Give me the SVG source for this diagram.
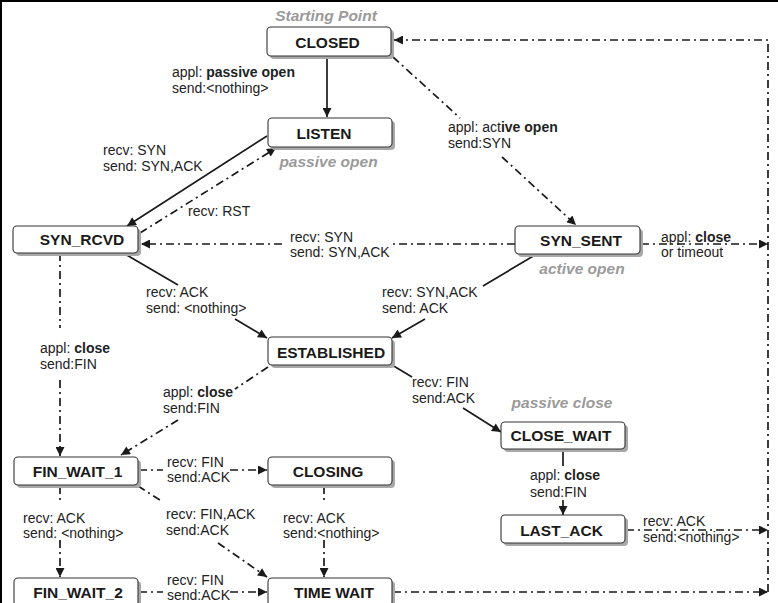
<svg xmlns="http://www.w3.org/2000/svg" width="778" height="603" viewBox="0 0 778 603">
<style>
.box{fill:#fff;stroke:#333;stroke-width:1.1}
.sh{fill:#a8a8a8}
.nt{font-family:"Liberation Sans",Arial,sans-serif;font-weight:bold;font-size:15.5px;fill:#1a1a1a;text-anchor:middle}
.lb{font-family:"Liberation Sans",Arial,sans-serif;font-size:14px;fill:#222}
.gl{font-family:"Liberation Sans",Arial,sans-serif;font-weight:bold;font-style:italic;font-size:15.5px;fill:#9a9a9a;text-anchor:middle}
.b{font-weight:bold}
.sol{fill:none;stroke:#1a1a1a;stroke-width:1.7}
.dd{fill:none;stroke:#1a1a1a;stroke-width:1.7;stroke-dasharray:8 4 2 4}
</style>
<defs>
<marker id="ah" viewBox="0 0 10 10" refX="10" refY="5" markerWidth="11" markerHeight="9" orient="auto" markerUnits="userSpaceOnUse">
<path d="M0,0 L10,5 L0,10 z" fill="#1a1a1a"/>
</marker>
</defs>
<rect x="0" y="0" width="778" height="603" fill="#fff"/>
<path d="M1,603 V1 H778" fill="none" stroke="#000" stroke-width="2"/>

<g id="connectors">
<path class="sol" d="M327,56 V117" marker-end="url(#ah)"/>
<path class="sol" d="M267,136 L127,226" marker-end="url(#ah)"/>
<path class="sol" d="M125,254 L178,285"/>
<path class="sol" d="M235,319 L267,338" marker-end="url(#ah)"/>
<path class="sol" d="M535,255 L483,286"/>
<path class="sol" d="M425,319 L392,338" marker-end="url(#ah)"/>
<path class="sol" d="M392,365 L412,377"/>
<path class="sol" d="M463,408 L501,432" marker-end="url(#ah)"/>
<path class="sol" d="M563,449 V466"/>
<path class="sol" d="M563,500 V515" marker-end="url(#ah)"/>

<path class="dd" d="M768,592 V40 H394" marker-end="url(#ah)"/>
<path class="dd" d="M393,57 L460,118"/>
<path class="dd" d="M502,157 L576,225" marker-end="url(#ah)"/>
<path class="dd" d="M140,233 L276,148" marker-end="url(#ah)"/>
<path class="dd" d="M515,244 H393"/>
<path class="dd" d="M282,244 H141" marker-end="url(#ah)"/>
<path class="dd" d="M641,244 H768" marker-end="url(#ah)"/>
<path class="dd" d="M60,253 V328"/>
<path class="dd" d="M60,380 V456" marker-end="url(#ah)"/>
<path class="dd" d="M268,367 L235,389"/>
<path class="dd" d="M178,420 L121,455" marker-end="url(#ah)"/>
<path class="dd" d="M139,470 H163"/>
<path class="dd" d="M230,470 H267" marker-end="url(#ah)"/>
<path class="dd" d="M138,486 L163,502"/>
<path class="dd" d="M218,543 L267,577" marker-end="url(#ah)"/>
<path class="dd" d="M60,486 V503"/>
<path class="dd" d="M60,540 V577" marker-end="url(#ah)"/>
<path class="dd" d="M324,486 V503"/>
<path class="dd" d="M324,540 V577" marker-end="url(#ah)"/>
<path class="dd" d="M139,592 H163"/>
<path class="dd" d="M230,592 H267" marker-end="url(#ah)"/>
<path class="dd" d="M393,592 H768" marker-end="url(#ah)"/>
<path class="dd" d="M626,530 H768" marker-end="url(#ah)"/>
</g>

<g id="labels">
<text class="gl" x="326" y="21">Starting Point</text>
<text class="gl" x="328.5" y="167">passive open</text>
<text class="gl" x="582" y="274">active open</text>
<text class="gl" x="562" y="408">passive close</text>

<text class="lb" x="172" y="77">appl: <tspan class="b">passive open</tspan></text>
<text class="lb" x="172" y="93">send:&lt;nothing&gt;</text>
<text class="lb" x="103" y="155">recv: SYN</text>
<text class="lb" x="103" y="171">send: SYN,ACK</text>
<text class="lb" x="188" y="216">recv: RST</text>
<text class="lb" x="448" y="132">appl: act<tspan class="b">ive open</tspan></text>
<text class="lb" x="448" y="148">send:SYN</text>
<text class="lb" x="290" y="242">recv: SYN</text>
<text class="lb" x="290" y="257">send: SYN,ACK</text>
<text class="lb" x="661" y="242">appl: <tspan class="b">close</tspan></text>
<text class="lb" x="661" y="257">or timeout</text>
<text class="lb" x="146" y="297">recv: ACK</text>
<text class="lb" x="146" y="313">send: &lt;nothing&gt;</text>
<text class="lb" x="382" y="297">recv: SYN,ACK</text>
<text class="lb" x="382" y="313">send: ACK</text>
<text class="lb" x="40" y="353">appl: <tspan class="b">close</tspan></text>
<text class="lb" x="40" y="369">send:FIN</text>
<text class="lb" x="163" y="397">appl: <tspan class="b">close</tspan></text>
<text class="lb" x="163" y="413">send:FIN</text>
<text class="lb" x="412" y="387">recv: FIN</text>
<text class="lb" x="412" y="403">send:ACK</text>
<text class="lb" x="530" y="480">appl: <tspan class="b">close</tspan></text>
<text class="lb" x="530" y="497">send:FIN</text>
<text class="lb" x="167" y="467">recv: FIN</text>
<text class="lb" x="167" y="482">send:ACK</text>
<text class="lb" x="23" y="523">recv: ACK</text>
<text class="lb" x="23" y="538">send: &lt;nothing&gt;</text>
<text class="lb" x="166" y="519">recv: FIN,ACK</text>
<text class="lb" x="166" y="535">send:ACK</text>
<text class="lb" x="283" y="523">recv: ACK</text>
<text class="lb" x="283" y="538">send:&lt;nothing&gt;</text>
<text class="lb" x="643" y="526">recv: ACK</text>
<text class="lb" x="643" y="542">send:&lt;nothing&gt;</text>
<text class="lb" x="167" y="585">recv: FIN</text>
<text class="lb" x="167" y="600">send:ACK</text>
</g>

<g id="closed"><rect class="sh" x="270" y="30" width="124" height="29" rx="4"/><rect class="box" x="267" y="27" width="124" height="29" rx="4"/><text class="nt" x="327.5" y="47.5">CLOSED</text></g>
<g id="listen"><rect class="sh" x="271" y="121" width="124" height="29" rx="4"/><rect class="box" x="268" y="118" width="124" height="29" rx="4"/><text class="nt" x="324" y="139">LISTEN</text></g>
<g id="syn_rcvd"><rect class="sh" x="16" y="229" width="125" height="27" rx="4"/><rect class="box" x="13" y="226" width="125" height="27" rx="4"/><text class="nt" x="82" y="245">SYN_RCVD</text></g>
<g id="syn_sent"><rect class="sh" x="518" y="229" width="125" height="28" rx="4"/><rect class="box" x="515" y="226" width="125" height="28" rx="4"/><text class="nt" x="581" y="246">SYN_SENT</text></g>
<g id="established"><rect class="sh" x="271" y="340" width="124" height="28" rx="4"/><rect class="box" x="268" y="337" width="124" height="28" rx="4"/><text class="nt" x="331" y="357.5">ESTABLISHED</text></g>
<g id="close_wait"><rect class="sh" x="504" y="425" width="124" height="27" rx="4"/><rect class="box" x="501" y="422" width="124" height="27" rx="4"/><text class="nt" x="561" y="441">CLOSE_WAIT</text></g>
<g id="fin_wait_1"><rect class="sh" x="17" y="460" width="124" height="28" rx="4"/><rect class="box" x="14" y="457" width="124" height="28" rx="4"/><text class="nt" x="77.5" y="477">FIN_WAIT_1</text></g>
<g id="closing"><rect class="sh" x="271" y="460" width="124" height="28" rx="4"/><rect class="box" x="268" y="457" width="124" height="28" rx="4"/><text class="nt" x="328" y="477">CLOSING</text></g>
<g id="last_ack"><rect class="sh" x="504" y="518" width="124" height="28" rx="4"/><rect class="box" x="501" y="515" width="124" height="28" rx="4"/><text class="nt" x="561.5" y="535.5">LAST_ACK</text></g>
<g id="fin_wait_2"><rect class="sh" x="17" y="581" width="124" height="28" rx="4"/><rect class="box" x="14" y="578" width="124" height="28" rx="4"/><text class="nt" x="78" y="598">FIN_WAIT_2</text></g>
<g id="time_wait"><rect class="sh" x="271" y="581" width="124" height="28" rx="4"/><rect class="box" x="268" y="578" width="124" height="28" rx="4"/><text class="nt" x="334" y="598">TIME WAIT</text></g>
</svg>
